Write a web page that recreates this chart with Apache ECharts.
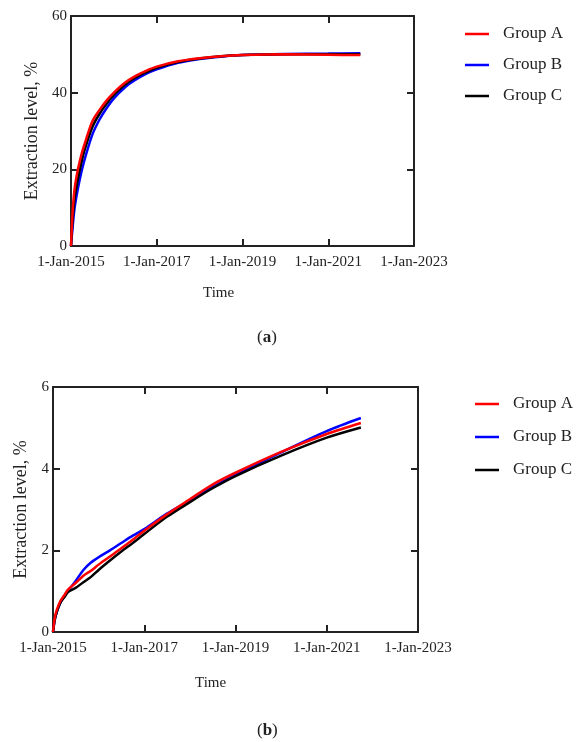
<!DOCTYPE html>
<html>
<head>
<meta charset="utf-8">
<title>Extraction level</title>
<script src="https://cdn.jsdelivr.net/npm/echarts@6/dist/echarts.min.js"></script>
<style>
  html, body { margin: 0; padding: 0; background: #fff; }
  #chart { width: 583px; height: 742px; }
</style>
</head>
<body>
<div id="chart"></div>
<script>
  // sample dates shared by both panels
  var dates = ['2015-01-01', '2015-01-15', '2015-02-01', '2015-03-01', '2015-04-01', '2015-05-01',
    '2015-07-01', '2015-09-01', '2015-11-01', '2016-01-01', '2016-04-01', '2016-07-01',
    '2016-10-01', '2017-01-01', '2017-07-01', '2018-01-01', '2018-07-01', '2019-01-01',
    '2020-01-01', '2021-01-01', '2021-10-01'];
  var groupNames = ['Group A', 'Group B', 'Group C'];
  var groupColors = ['#ff0000', '#0000ff', '#000000'];
  var xTickYears = [2015, 2017, 2019, 2021, 2023];

  // panel (a)
  var aGroupA = [0, 9, 15, 20, 24, 27, 32.5, 35.5, 38, 40, 42.5, 44.3, 45.7, 46.8, 48.2, 49.0, 49.5, 49.8, 50.0, 49.9, 49.8];
  var aGroupB = [0, 5, 10, 15, 19.5, 23, 29, 33, 36, 38.5, 41.3, 43.3, 44.9, 46.1, 47.8, 48.8, 49.4, 49.8, 50.1, 50.2, 50.3];
  var aGroupC = [0, 7, 12.5, 17.5, 22, 25.5, 31, 34.5, 37.2, 39.4, 42, 43.9, 45.3, 46.5, 48, 48.9, 49.5, 49.8, 50.0, 50.05, 50.05];
  var aYTicks = [0, 20, 40, 60];

  // panel (b)
  var bGroupA = [0, 0.35, 0.55, 0.76, 0.9, 1.04, 1.2, 1.38, 1.5, 1.65, 1.85, 2.05, 2.26, 2.48, 2.88, 3.25, 3.61, 3.9, 4.41, 4.85, 5.12];
  var bGroupB = [0, 0.3, 0.5, 0.72, 0.88, 1.0, 1.25, 1.52, 1.7, 1.83, 2.0, 2.18, 2.36, 2.52, 2.9, 3.22, 3.55, 3.85, 4.4, 4.92, 5.24];
  var bGroupC = [0, 0.3, 0.5, 0.72, 0.85, 0.98, 1.08, 1.22, 1.35, 1.52, 1.75, 1.97, 2.18, 2.4, 2.82, 3.18, 3.52, 3.82, 4.32, 4.76, 5.01];
  var bYTicks = [0, 2, 4, 6];

  var font = 'Liberation Serif';
  var ink = '#222';

  function yearFrac(s) {
    var d = new Date(s + 'T00:00:00Z');
    var y = d.getUTCFullYear();
    var start = Date.UTC(y, 0, 1), end = Date.UTC(y + 1, 0, 1);
    return y + (d.getTime() - start) / (end - start);
  }

  function pairs(vals) {
    return dates.map(function (d, i) { return [yearFrac(d), vals[i]]; });
  }

  function xAxes(gridIndex) {
    var base = {
      gridIndex: gridIndex,
      type: 'value',
      min: xTickYears[0],
      max: xTickYears[xTickYears.length - 1],
      interval: 2,
      splitLine: { show: false },
      axisLine: { onZero: false, lineStyle: { color: ink, width: 2 } },
      axisTick: { inside: true, length: 7, lineStyle: { color: ink, width: 2 } }
    };
    var bottom = Object.assign({}, base, {
      position: 'bottom',
      axisLabel: {
        margin: 9, fontFamily: font, fontSize: 15, color: ink,
        formatter: function (v) { return '1-Jan-' + v; }
      }
    });
    var top = Object.assign({}, base, { position: 'top', axisLabel: { show: false } });
    return [bottom, top];
  }

  function yAxes(gridIndex, ticks, nameGap) {
    var base = {
      gridIndex: gridIndex,
      type: 'value',
      min: ticks[0],
      max: ticks[ticks.length - 1],
      interval: ticks[1] - ticks[0],
      splitLine: { show: false },
      axisLine: { onZero: false, lineStyle: { color: ink, width: 2 } },
      axisTick: { inside: true, length: 7, lineStyle: { color: ink, width: 2 } }
    };
    var left = Object.assign({}, base, {
      position: 'left',
      name: 'Extraction level, %',
      nameLocation: 'middle',
      nameGap: nameGap,
      nameTextStyle: { fontFamily: font, fontSize: 18, color: ink },
      axisLabel: { margin: 4, fontFamily: font, fontSize: 15, color: ink }
    });
    var right = Object.assign({}, base, { position: 'right', axisLabel: { show: false } });
    return [left, right];
  }

  function lines(axisIdx, vals) {
    var zs = [4, 2, 3];
    return vals.map(function (v, i) {
      return {
        name: groupNames[i],
        type: 'line',
        xAxisIndex: axisIdx,
        yAxisIndex: axisIdx,
        data: pairs(v),
        smooth: 0.3,
        showSymbol: false,
        z: zs[i],
        color: groupColors[i],
        lineStyle: { width: 2.5, color: groupColors[i] }
      };
    });
  }

  function legend(left, top, gap) {
    return {
      orient: 'vertical',
      left: left,
      top: top,
      padding: 0,
      data: groupNames,
      icon: 'rect',
      itemWidth: 24,
      itemHeight: 2.5,
      itemGap: gap,
      selectedMode: false,
      textStyle: { fontFamily: font, fontSize: 17, color: ink, lineHeight: 18, padding: [0, 0, 0, 9] }
    };
  }

  function caption(x, y, letter) {
    return {
      type: 'text',
      left: x,
      top: y,
      style: {
        text: '({b|' + letter + '})',
        font: '17px "' + font + '"',
        fill: ink,
        rich: { b: { fontFamily: font, fontSize: 17, fontWeight: 'bold', fill: ink } }
      }
    };
  }

  function plain(x, y, txt) {
    return { type: 'text', left: x, top: y, style: { text: txt, font: '15px "' + font + '"', fill: ink } };
  }

  var chart = echarts.init(document.getElementById('chart'));
  chart.setOption({
    backgroundColor: '#fff',
    animation: false,
    grid: [
      { left: 71, top: 16, width: 343, height: 230 },
      { left: 53, top: 387, width: 365, height: 245 }
    ],
    xAxis: xAxes(0).concat(xAxes(1)).map(function (a, i) { return Object.assign(a, { gridIndex: i < 2 ? 0 : 1 }); }),
    yAxis: yAxes(0, aYTicks, 29).concat(yAxes(1, bYTicks, 22)),
    legend: [legend(465, 25, 13), legend(475, 395, 15)],
    series: lines(0, [aGroupA, aGroupB, aGroupC]).concat(lines(2, [bGroupA, bGroupB, bGroupC])),
    graphic: [
      plain(203, 286, 'Time'),
      caption(257, 329, 'a'),
      plain(195, 676, 'Time'),
      caption(257, 722, 'b')
    ]
  });
</script>
</body>
</html>
